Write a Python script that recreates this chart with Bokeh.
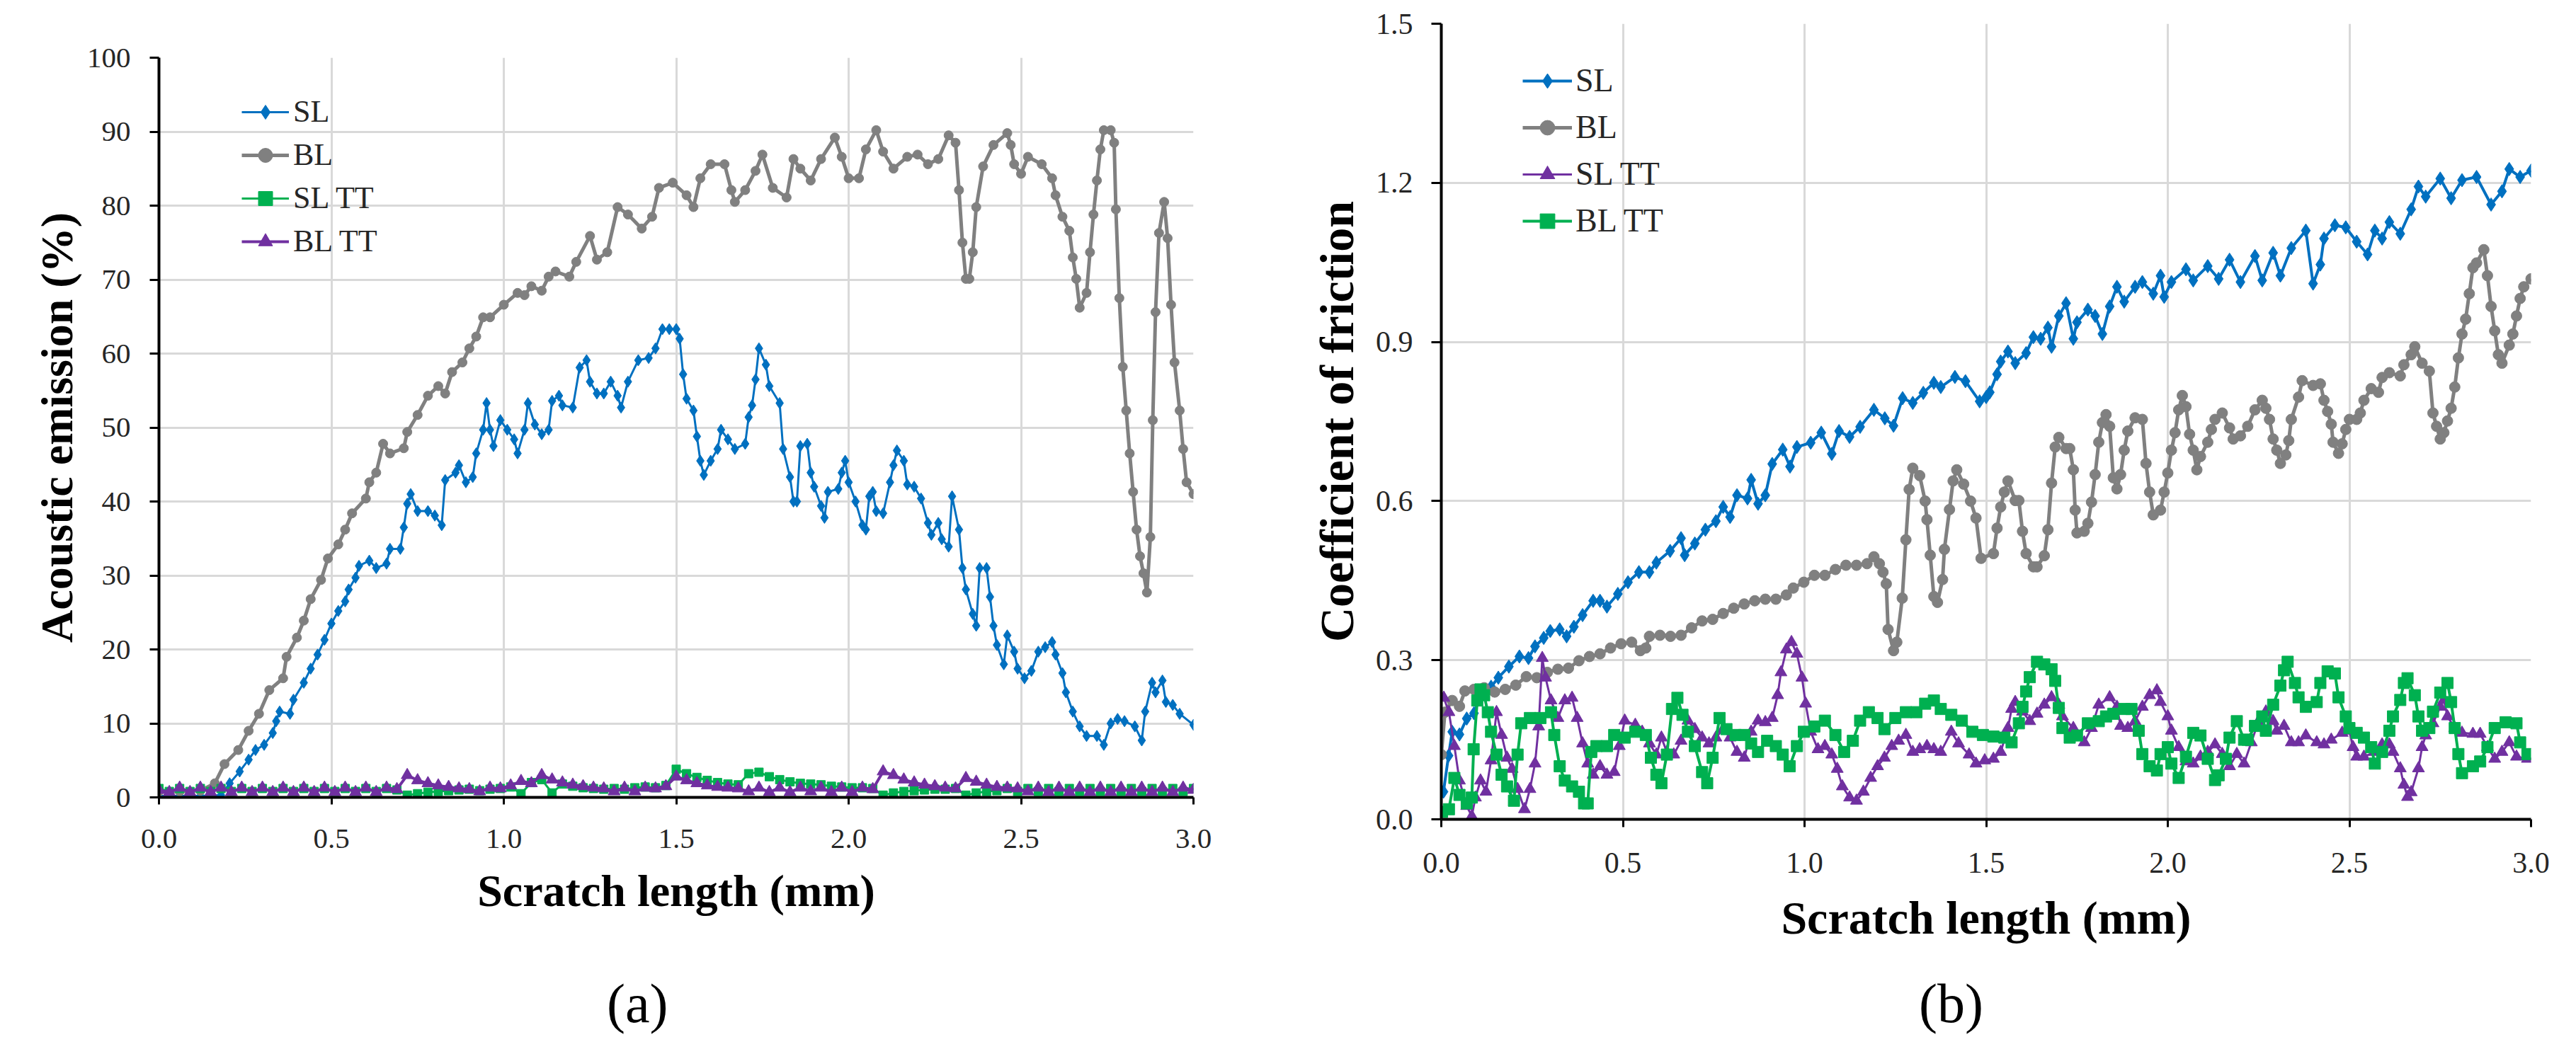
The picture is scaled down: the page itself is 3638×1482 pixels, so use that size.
from bokeh.plotting import figure
from bokeh.layouts import row, column
from bokeh.models import Label, Legend, LegendItem, FixedTicker, PrintfTickFormatter, Range1d
from bokeh.embed import file_html
from bokeh.resources import INLINE

FONT = "Liberation Serif"
BLUE, GRAY, GREEN, PURPLE = "#0070C0", "#808080", "#00B050", "#7030A0"

# ---------------- (a) acoustic emission (%) vs scratch length (mm)
ae_sl_x = [0.00, 0.06, 0.12, 0.18, 0.205, 0.234, 0.26, 0.28, 0.305, 0.33, 0.34, 0.35, 0.38, 0.39, 0.42, 0.44,
           0.46, 0.48, 0.50, 0.52, 0.54, 0.55, 0.57, 0.58, 0.61, 0.63, 0.66, 0.67, 0.70, 0.71, 0.72, 0.73,
           0.75, 0.78, 0.80, 0.82, 0.83, 0.86, 0.87, 0.89, 0.91, 0.92, 0.94, 0.95, 0.96, 0.97, 0.99, 1.01,
           1.03, 1.04, 1.06, 1.07, 1.09, 1.11, 1.13, 1.14, 1.16, 1.17, 1.20, 1.22, 1.24, 1.25, 1.27, 1.29,
           1.31, 1.33, 1.34, 1.36, 1.39, 1.42, 1.44, 1.46, 1.48, 1.50, 1.51, 1.52, 1.53, 1.55, 1.56, 1.57,
           1.58, 1.60, 1.62, 1.63, 1.65, 1.67, 1.70, 1.71, 1.72, 1.73, 1.74, 1.76, 1.77, 1.80, 1.81, 1.83,
           1.84, 1.85, 1.86, 1.88, 1.89, 1.90, 1.92, 1.93, 1.94, 1.97, 1.98, 1.99, 2.00, 2.02, 2.04, 2.05,
           2.06, 2.07, 2.08, 2.10, 2.12, 2.13, 2.14, 2.16, 2.17, 2.19, 2.21, 2.23, 2.24, 2.26, 2.27, 2.29,
           2.30, 2.32, 2.33, 2.34, 2.36, 2.37, 2.38, 2.40, 2.41, 2.42, 2.43, 2.45, 2.46, 2.48, 2.49, 2.51,
           2.53, 2.55, 2.57, 2.59, 2.60, 2.62, 2.63, 2.65, 2.67, 2.69, 2.72, 2.74, 2.76, 2.78, 2.80, 2.83,
           2.85, 2.86, 2.88, 2.89, 2.91, 2.92, 2.94, 2.96, 3.00]
ae_sl_y = [0.2, 0.2, 0.2, 0.3, 1.9, 3.5, 5.1, 6.4, 7.1, 8.7, 10.3, 11.6, 11.3, 13.2, 15.5, 17.4,
           19.3, 21.3, 23.5, 25.2, 26.5, 28.1, 29.7, 31.3, 32.0, 31.0, 31.6, 33.6, 33.6, 36.5, 39.7, 41.0,
           38.7, 38.7, 38.1, 36.8, 42.9, 43.9, 44.9, 42.6, 43.3, 46.5, 49.7, 53.3, 49.7, 47.5, 51.0, 49.7,
           48.4, 46.5, 49.7, 53.3, 50.4, 49.1, 49.7, 53.6, 54.3, 53.0, 52.7, 58.1, 59.1, 56.2, 54.6, 54.6,
           56.2, 54.3, 52.7, 56.2, 59.1, 59.4, 60.7, 63.3, 63.3, 63.3, 62.0, 57.2, 53.9, 52.3, 48.8, 45.5,
           43.6, 45.5, 47.1, 49.7, 48.4, 47.1, 47.8, 51.4, 53.0, 56.5, 60.7, 58.5, 55.6, 53.3, 47.1, 43.3,
           40.0, 40.0, 47.5, 47.8, 43.9, 42.0, 39.4, 37.8, 41.3, 41.7, 43.9, 45.5, 42.6, 40.0, 36.8, 36.2,
           40.7, 41.3, 38.7, 38.4, 42.6, 44.9, 46.9, 45.5, 42.3, 42.0, 40.4, 37.1, 35.5, 37.1, 34.9, 33.9,
           40.7, 36.2, 31.0, 28.1, 24.8, 23.2, 31.0, 31.0, 27.1, 23.2, 20.6, 18.0, 21.9, 19.7, 17.4, 16.1,
           17.1, 19.7, 20.3, 21.0, 19.3, 16.8, 14.2, 11.6, 9.6, 8.3, 8.3, 7.1, 10.0, 10.6, 10.3, 9.6,
           7.7, 11.6, 15.5, 14.2, 15.8, 12.9, 12.5, 11.3, 9.8]

ae_bl_x = [0.00, 0.06, 0.12, 0.162, 0.19, 0.23, 0.26, 0.29, 0.32, 0.36, 0.37, 0.40, 0.42, 0.44, 0.47, 0.49,
           0.52, 0.54, 0.56, 0.60, 0.61, 0.63, 0.65, 0.67, 0.71, 0.72, 0.75, 0.78, 0.81, 0.83, 0.85, 0.88,
           0.90, 0.92, 0.94, 0.96, 1.00, 1.04, 1.06, 1.08, 1.11, 1.13, 1.15, 1.19, 1.21, 1.25, 1.27, 1.30,
           1.33, 1.36, 1.40, 1.43, 1.45, 1.49, 1.53, 1.55, 1.57, 1.60, 1.64, 1.66, 1.67, 1.70, 1.73, 1.75,
           1.78, 1.82, 1.84, 1.86, 1.89, 1.92, 1.96, 1.98, 2.00, 2.03, 2.05, 2.08, 2.10, 2.13, 2.17, 2.20,
           2.23, 2.26, 2.29, 2.31, 2.32, 2.33, 2.34, 2.35, 2.36, 2.37, 2.39, 2.42, 2.46, 2.47, 2.48, 2.50,
           2.52, 2.56, 2.59, 2.60, 2.62, 2.64, 2.65, 2.66, 2.67, 2.69, 2.70, 2.71, 2.72, 2.73, 2.74, 2.76,
           2.77, 2.775, 2.785, 2.795, 2.805, 2.815, 2.825, 2.835, 2.845, 2.855, 2.865, 2.875, 2.882, 2.89,
           2.90, 2.915, 2.925, 2.935, 2.945, 2.96, 2.97, 2.98, 3.00]
ae_bl_y = [0.8, 0.8, 0.9, 1.9, 4.5, 6.4, 9.0, 11.3, 14.5, 16.1, 19.0, 21.6, 23.9, 26.8, 29.4, 32.3,
           34.2, 36.2, 38.4, 40.4, 42.6, 43.9, 47.8, 46.5, 47.2, 49.4, 51.7, 54.3, 55.6, 54.6, 57.5, 58.8,
           60.7, 62.3, 64.9, 64.9, 66.6, 68.2, 67.9, 69.1, 68.5, 70.4, 71.1, 70.4, 72.4, 75.9, 72.7, 73.7,
           79.8, 78.8, 76.9, 78.5, 82.4, 83.1, 81.4, 79.8, 83.7, 85.6, 85.6, 82.1, 80.5, 82.1, 84.7, 86.9,
           82.4, 81.1, 86.3, 85.0, 83.4, 86.3, 89.2, 86.6, 83.7, 83.7, 87.6, 90.2, 87.3, 85.0, 86.6, 86.9,
           85.6, 86.3, 89.5, 88.5, 82.1, 75.0, 70.1, 70.1, 73.7, 79.8, 85.3, 88.2, 89.8, 88.2, 85.6, 84.3,
           86.6, 85.6, 83.7, 81.4, 78.5, 76.6, 73.0, 70.1, 66.2, 68.2, 73.7, 78.8, 83.4, 87.6, 90.2, 90.2,
           88.5, 79.5, 67.5, 58.2, 52.3, 46.5, 41.3, 36.2, 32.6, 30.3, 27.7, 35.2, 51.0, 65.6,
           76.3, 80.5, 75.6, 66.6, 58.8, 52.3, 47.1, 42.6, 41.0]

# both TT series of (a) were read every 0.03 mm
ae_tt_x = [round(i * 0.03, 2) for i in range(101)]
ae_sltt_y = [1.2, 0.8, 1.2, 0.8, 1.2, 0.8, 1.2, 0.8, 1.2, 0.8, 1.2, 0.8, 1.2, 0.8, 1.2, 0.8,
             1.2, 0.8, 1.2, 0.8, 1.2, 0.8, 1.2, 1.0, 0.3, 0.5, 0.7, 0.8, 0.9, 1.0, 1.1, 0.9,
             1.1, 1.2, 1.4, 0.5, 2.0, 2.4, 0.6, 1.8, 1.5, 1.3, 1.2, 1.1, 1.2, 1.1, 1.3, 1.4,
             1.3, 1.6, 3.8, 3.2, 2.7, 2.3, 2.0, 1.8, 1.7, 3.2, 3.4, 2.8, 2.4, 2.1, 1.9, 1.8,
             1.7, 1.5, 1.4, 1.3, 1.3, 1.2, 0.3, 0.6, 0.8, 0.9, 1.0, 1.1, 1.1, 1.2, 0.3, 0.6,
             0.8, 0.9, 1.2, 0.8, 1.2, 0.8, 1.2, 0.8, 1.2, 0.8, 1.2, 0.8, 1.2, 0.8, 1.2, 0.8,
             1.2, 0.8, 1.2, 0.8, 1.2]
ae_bltt_y = [1.0, 0.7, 1.3, 0.7, 1.3, 0.7, 1.3, 0.7, 1.3, 0.7, 1.3, 0.7, 1.3, 0.7, 1.3, 0.7,
             1.3, 0.7, 1.3, 0.7, 1.3, 0.7, 1.3, 1.1, 3.0, 2.3, 1.9, 1.6, 1.4, 1.2, 1.1, 0.8,
             1.3, 1.2, 1.6, 2.2, 1.9, 3.0, 2.4, 2.0, 1.7, 1.5, 1.3, 1.2, 0.8, 1.3, 0.8, 1.3,
             1.2, 1.5, 2.8, 2.3, 1.9, 1.6, 1.4, 1.3, 1.2, 0.8, 1.3, 0.7, 1.3, 0.7, 1.3, 0.8,
             1.3, 0.7, 1.3, 0.7, 1.3, 1.1, 3.5, 3.0, 2.4, 2.0, 1.7, 1.5, 1.3, 1.2, 2.6, 2.1,
             1.7, 1.4, 1.3, 1.2, 0.8, 1.3, 0.7, 1.3, 0.7, 1.3, 0.7, 1.3, 0.7, 1.3, 0.7, 1.3,
             0.7, 1.3, 0.7, 1.3, 1.0]

# ---------------- (b) coefficient of friction vs scratch length (mm)
cof_sl_x = [0.006, 0.02, 0.03, 0.05, 0.07, 0.09, 0.108, 0.137, 0.157, 0.186, 0.215, 0.24, 0.258, 0.282, 0.30,
            0.326, 0.345, 0.365, 0.389, 0.418, 0.437, 0.456, 0.486, 0.514, 0.544, 0.573, 0.592, 0.63, 0.66,
            0.67, 0.698, 0.727, 0.756, 0.776, 0.795, 0.814, 0.843, 0.853, 0.872, 0.892, 0.911, 0.94, 0.96,
            0.979, 1.017, 1.046, 1.075, 1.095, 1.124, 1.153, 1.191, 1.221, 1.245, 1.27, 1.298, 1.327, 1.356,
            1.375, 1.414, 1.443, 1.482, 1.50, 1.51, 1.53, 1.54, 1.56, 1.58, 1.61, 1.63, 1.65, 1.67, 1.68,
            1.70, 1.72, 1.74, 1.75, 1.78, 1.80, 1.82, 1.84, 1.86, 1.88, 1.91, 1.93, 1.96, 1.98, 1.99, 2.01,
            2.05, 2.07, 2.11, 2.14, 2.17, 2.20, 2.24, 2.26, 2.29, 2.31, 2.34, 2.38, 2.40, 2.42, 2.43, 2.46,
            2.49, 2.52, 2.55, 2.57, 2.59, 2.61, 2.64, 2.67, 2.69, 2.71, 2.75, 2.78, 2.81, 2.85, 2.89, 2.92,
            2.94, 2.97, 3.00]
cof_sl_y = [0.052, 0.12, 0.165, 0.16, 0.19, 0.20, 0.234, 0.25, 0.267, 0.288, 0.307, 0.304, 0.326, 0.342, 0.355,
            0.358, 0.345, 0.363, 0.385, 0.412, 0.412, 0.401, 0.425, 0.447, 0.466, 0.466, 0.484, 0.506, 0.53,
            0.498, 0.52, 0.546, 0.562, 0.589, 0.570, 0.611, 0.605, 0.640, 0.595, 0.611, 0.670, 0.697, 0.665,
            0.702, 0.710, 0.729, 0.689, 0.732, 0.721, 0.740, 0.772, 0.756, 0.742, 0.794, 0.785, 0.804, 0.823,
            0.815, 0.834, 0.826, 0.788, 0.796, 0.805, 0.839, 0.863, 0.882, 0.860, 0.879, 0.909, 0.906, 0.927, 0.891,
            0.949, 0.973, 0.906, 0.937, 0.961, 0.949, 0.915, 0.967, 1.004, 0.976, 1.004, 1.013, 0.991, 1.025, 0.985, 1.013,
            1.037, 1.016, 1.043, 1.019, 1.055, 1.013, 1.062, 1.016, 1.068, 1.025, 1.077, 1.110, 1.010, 1.046, 1.095, 1.120,
            1.116, 1.089, 1.065, 1.110, 1.095, 1.126, 1.104, 1.150, 1.193, 1.174, 1.208, 1.171, 1.205, 1.211, 1.159, 1.184,
            1.226, 1.211, 1.223]

cof_bl_x = [0.00, 0.01, 0.03, 0.05, 0.065, 0.09, 0.118, 0.147, 0.176, 0.205, 0.234, 0.263, 0.292, 0.321, 0.350,
            0.379, 0.408, 0.437, 0.466, 0.495, 0.524, 0.548, 0.563, 0.573, 0.602, 0.631, 0.66, 0.689, 0.718,
            0.747, 0.776, 0.805, 0.834, 0.863, 0.892, 0.921, 0.95, 0.969, 0.998, 1.027, 1.056, 1.085, 1.114,
            1.143, 1.172, 1.191, 1.206, 1.216, 1.225, 1.23, 1.245, 1.254, 1.269, 1.279, 1.288, 1.298, 1.317,
            1.332, 1.337, 1.346, 1.356, 1.366, 1.380, 1.385, 1.399, 1.409, 1.419, 1.438, 1.457, 1.472, 1.486,
            1.52, 1.53, 1.54, 1.55, 1.56, 1.58, 1.59, 1.60, 1.61, 1.63, 1.64, 1.66, 1.67, 1.68, 1.69, 1.70,
            1.72, 1.73, 1.74, 1.745, 1.75, 1.77, 1.78, 1.79, 1.80, 1.81, 1.82, 1.83, 1.84, 1.85, 1.86, 1.87,
            1.88, 1.89, 1.91, 1.93, 1.94, 1.95, 1.96, 1.98, 1.99, 2.00, 2.01, 2.02, 2.03, 2.04, 2.05, 2.06,
            2.07, 2.08, 2.09, 2.11, 2.12, 2.13, 2.15, 2.17, 2.18, 2.20, 2.22, 2.24, 2.26, 2.27, 2.28, 2.29,
            2.30, 2.31, 2.325, 2.333, 2.34, 2.36, 2.37, 2.40, 2.42, 2.43, 2.44, 2.45, 2.455, 2.47, 2.48, 2.49,
            2.50, 2.52, 2.53, 2.54, 2.56, 2.58, 2.59, 2.61, 2.64, 2.65, 2.67, 2.68, 2.70, 2.72, 2.73, 2.74,
            2.75, 2.76, 2.77, 2.78, 2.79, 2.80, 2.81, 2.82, 2.83, 2.84, 2.85, 2.87, 2.88, 2.89, 2.90, 2.91,
            2.92, 2.94, 2.95, 2.96, 2.97, 2.98, 3.00]
cof_bl_y = [0.122, 0.202, 0.224, 0.213, 0.242, 0.245, 0.248, 0.240, 0.245, 0.253, 0.269, 0.267, 0.277, 0.283, 0.285,
            0.299, 0.307, 0.312, 0.323, 0.331, 0.334, 0.318, 0.323, 0.345, 0.347, 0.345, 0.347, 0.361, 0.374,
            0.377, 0.388, 0.398, 0.406, 0.412, 0.415, 0.415, 0.423, 0.436, 0.447, 0.460, 0.460, 0.471, 0.479,
            0.479, 0.482, 0.495, 0.482, 0.466, 0.444, 0.358, 0.318, 0.334, 0.417, 0.527, 0.622, 0.662, 0.648,
            0.600, 0.565, 0.498, 0.420, 0.409, 0.452, 0.509, 0.584, 0.638, 0.659, 0.632, 0.600, 0.568, 0.492,
            0.501, 0.549, 0.589, 0.617, 0.638, 0.601, 0.601, 0.543, 0.501, 0.476, 0.476, 0.497, 0.546, 0.634, 0.702, 0.720,
            0.699, 0.699, 0.659, 0.583, 0.540, 0.543, 0.558, 0.598, 0.650, 0.711, 0.748, 0.763, 0.741, 0.644, 0.623, 0.650,
            0.696, 0.732, 0.757, 0.754, 0.671, 0.617, 0.574, 0.583, 0.617, 0.653, 0.696, 0.729, 0.772, 0.799, 0.778, 0.726,
            0.696, 0.659, 0.684, 0.711, 0.735, 0.754, 0.766, 0.738, 0.717, 0.723, 0.741, 0.772, 0.790, 0.775, 0.754, 0.717,
            0.696, 0.671, 0.687, 0.714, 0.754, 0.796, 0.827, 0.818, 0.821, 0.790, 0.769, 0.745, 0.711, 0.690, 0.708, 0.735,
            0.754, 0.754, 0.766, 0.790, 0.812, 0.805, 0.833, 0.842, 0.836, 0.857, 0.876, 0.891, 0.860, 0.845, 0.766, 0.741,
            0.717, 0.729, 0.751, 0.775, 0.815, 0.870, 0.915, 0.943, 0.991, 1.040, 1.049, 1.074, 1.025, 0.967, 0.921, 0.876,
            0.860, 0.894, 0.915, 0.949, 0.982, 1.004, 1.019]

cof_sltt_x = [0.007, 0.021, 0.036, 0.05, 0.07, 0.084, 0.094, 0.108, 0.123, 0.137, 0.152, 0.166, 0.181, 0.195,
              0.21, 0.229, 0.244, 0.258, 0.268, 0.278, 0.287, 0.302, 0.321, 0.34, 0.36, 0.374, 0.389, 0.403,
              0.418, 0.437, 0.456, 0.476, 0.49, 0.505, 0.534, 0.553, 0.573, 0.592, 0.606, 0.621, 0.64, 0.66,
              0.679, 0.698, 0.718, 0.737, 0.756, 0.776, 0.795, 0.814, 0.834, 0.853, 0.872, 0.892, 0.911, 0.926,
              0.935, 0.95, 0.964, 0.979, 0.993, 1.003, 1.017, 1.037, 1.056, 1.075, 1.09, 1.104, 1.124, 1.143,
              1.162, 1.182, 1.201, 1.22, 1.24, 1.259, 1.279, 1.298, 1.317, 1.337, 1.356, 1.375, 1.404, 1.424,
              1.453, 1.472, 1.496, 1.52, 1.54, 1.56, 1.57, 1.58, 1.60, 1.62, 1.64, 1.66, 1.68, 1.70, 1.71,
              1.74, 1.77, 1.79, 1.81, 1.84, 1.86, 1.87, 1.89, 1.91, 1.93, 1.95, 1.97, 1.98, 2.00, 2.01, 2.03,
              2.05, 2.07, 2.09, 2.11, 2.13, 2.15, 2.17, 2.19, 2.21, 2.23, 2.25, 2.27, 2.29, 2.30, 2.32, 2.34,
              2.36, 2.38, 2.41, 2.43, 2.45, 2.48, 2.50, 2.51, 2.52, 2.54, 2.57, 2.59, 2.61, 2.62, 2.64, 2.65,
              2.66, 2.67, 2.69, 2.70, 2.71, 2.73, 2.75, 2.76, 2.77, 2.79, 2.81, 2.84, 2.86, 2.88, 2.90, 2.92,
              2.94, 2.96, 2.99]
cof_sltt_y = [0.229, 0.202, 0.138, 0.073, 0.025, 0.006, 0.041, 0.073, 0.052, 0.111, 0.202, 0.159, 0.116, 0.095,
              0.057, 0.019, 0.057, 0.105, 0.175, 0.304, 0.267, 0.224, 0.191, 0.224, 0.229, 0.191, 0.143, 0.105,
              0.084, 0.100, 0.084, 0.089, 0.138, 0.186, 0.178, 0.165, 0.143, 0.122, 0.154, 0.127, 0.122, 0.148,
              0.186, 0.170, 0.154, 0.143, 0.154, 0.170, 0.154, 0.127, 0.116, 0.165, 0.186, 0.183, 0.191, 0.234,
              0.277, 0.320, 0.334, 0.312, 0.267, 0.218, 0.165, 0.132, 0.138, 0.122, 0.095, 0.062, 0.041, 0.035,
              0.052, 0.078, 0.100, 0.116, 0.138, 0.148, 0.159, 0.127, 0.132, 0.138, 0.132, 0.127, 0.165, 0.143,
              0.122, 0.105, 0.111, 0.114, 0.127, 0.172, 0.208, 0.221, 0.203, 0.185, 0.199, 0.216, 0.230, 0.216, 0.194,
              0.172, 0.145, 0.172, 0.216, 0.230, 0.212, 0.176, 0.172, 0.185, 0.212, 0.234, 0.243, 0.221, 0.194, 0.167, 0.136,
              0.109, 0.105, 0.118, 0.127, 0.141, 0.123, 0.100, 0.123, 0.105, 0.145, 0.185, 0.203, 0.185, 0.167, 0.176, 0.145,
              0.145, 0.158, 0.145, 0.141, 0.150, 0.163, 0.167, 0.136, 0.118, 0.118, 0.127, 0.141, 0.141, 0.127, 0.096, 0.065,
              0.042, 0.051, 0.096, 0.136, 0.158, 0.181, 0.212, 0.225, 0.194, 0.172, 0.163, 0.161, 0.161, 0.136, 0.114, 0.127,
              0.145, 0.118, 0.114]

cof_bltt_x = [0.002, 0.021, 0.036, 0.05, 0.07, 0.084, 0.089, 0.099, 0.108, 0.118, 0.128, 0.137, 0.152, 0.166,
              0.181, 0.20, 0.21, 0.22, 0.244, 0.273, 0.302, 0.311, 0.326, 0.34, 0.36, 0.379, 0.393, 0.403,
              0.413, 0.427, 0.456, 0.476, 0.505, 0.534, 0.563, 0.577, 0.592, 0.606, 0.621, 0.635, 0.65, 0.664,
              0.679, 0.698, 0.718, 0.732, 0.747, 0.766, 0.785, 0.81, 0.834, 0.853, 0.872, 0.897, 0.921, 0.94,
              0.959, 0.979, 0.998, 1.027, 1.056, 1.085, 1.109, 1.133, 1.153, 1.177, 1.201, 1.22, 1.25, 1.279,
              1.308, 1.332, 1.356, 1.375, 1.404, 1.433, 1.462, 1.491, 1.52, 1.55, 1.57, 1.59, 1.60, 1.61,
              1.62, 1.64, 1.66, 1.68, 1.69, 1.70, 1.71, 1.73, 1.75, 1.78, 1.81, 1.83, 1.85, 1.88, 1.90, 1.92,
              1.93, 1.95, 1.97, 1.98, 2.00, 2.01, 2.03, 2.05, 2.07, 2.09, 2.11, 2.13, 2.14, 2.16, 2.17, 2.19,
              2.21, 2.22, 2.24, 2.26, 2.27, 2.29, 2.31, 2.32, 2.33, 2.35, 2.36, 2.38, 2.41, 2.42, 2.44, 2.46,
              2.47, 2.49, 2.50, 2.52, 2.54, 2.56, 2.57, 2.59, 2.61, 2.62, 2.64, 2.65, 2.66, 2.68, 2.69, 2.70,
              2.72, 2.73, 2.75, 2.77, 2.78, 2.79, 2.80, 2.81, 2.84, 2.86, 2.88, 2.90, 2.93, 2.96, 2.97, 2.99]
cof_bltt_y = [0.014, 0.019, 0.078, 0.046, 0.030, 0.041, 0.132, 0.224, 0.245, 0.234, 0.202, 0.165, 0.122, 0.084,
              0.062, 0.035, 0.122, 0.181, 0.191, 0.191, 0.202, 0.159, 0.100, 0.073, 0.062, 0.052, 0.030, 0.030,
              0.127, 0.138, 0.138, 0.159, 0.154, 0.165, 0.159, 0.116, 0.084, 0.068, 0.122, 0.208, 0.229, 0.197,
              0.165, 0.138, 0.089, 0.068, 0.116, 0.191, 0.170, 0.159, 0.159, 0.143, 0.127, 0.148, 0.138, 0.122,
              0.100, 0.138, 0.165, 0.175, 0.186, 0.159, 0.127, 0.148, 0.186, 0.202, 0.191, 0.170, 0.191, 0.202,
              0.202, 0.218, 0.224, 0.208, 0.197, 0.186, 0.165, 0.159, 0.156, 0.154, 0.145, 0.181, 0.212, 0.241,
              0.268, 0.297, 0.292, 0.283, 0.261, 0.210, 0.172, 0.154, 0.158, 0.181, 0.185, 0.194, 0.199, 0.208, 0.208, 0.167,
              0.123, 0.100, 0.092, 0.123, 0.136, 0.105, 0.078, 0.118, 0.163, 0.158, 0.114, 0.074, 0.083, 0.114, 0.154, 0.185,
              0.150, 0.150, 0.176, 0.194, 0.167, 0.216, 0.252, 0.281, 0.297, 0.257, 0.230, 0.212, 0.221, 0.257, 0.279, 0.275,
              0.230, 0.194, 0.172, 0.163, 0.154, 0.136, 0.105, 0.127, 0.167, 0.194, 0.225, 0.257, 0.266, 0.234, 0.194, 0.167,
              0.172, 0.203, 0.239, 0.257, 0.221, 0.172, 0.123, 0.087, 0.100, 0.109, 0.136, 0.172, 0.183, 0.181, 0.145, 0.123]

x_ticks = [0.0, 0.5, 1.0, 1.5, 2.0, 2.5, 3.0]
ae_ticks = [0, 10, 20, 30, 40, 50, 60, 70, 80, 90, 100]
cof_ticks = [0.0, 0.3, 0.6, 0.9, 1.2, 1.5]

PLOT_H = 1366
CAP_H = 100


def make_fig(width, y_range, borders):
    left, right, top, bottom = borders
    p = figure(width=width, height=PLOT_H, x_range=Range1d(0, 3), y_range=y_range,
               output_backend="svg", toolbar_location=None,
               min_border_left=left, min_border_right=right, min_border_top=top, min_border_bottom=bottom)
    p.outline_line_color = None
    p.grid.grid_line_color = "#d9d9d9"
    p.grid.grid_line_width = 3
    for ax in (p.xaxis[0], p.yaxis[0]):
        ax.axis_line_color = "black"
        ax.axis_line_width = 4
        ax.major_tick_line_color = "black"
        ax.major_tick_line_width = 3
        ax.major_tick_in = 0
        ax.minor_tick_line_color = None
        ax.major_label_text_font = FONT
        ax.major_label_text_color = "#262626"
        ax.axis_label_text_font = FONT
        ax.axis_label_text_font_style = "bold"
        ax.axis_label_text_color = "black"
    p.xaxis.ticker = FixedTicker(ticks=x_ticks)
    p.xaxis.formatter = PrintfTickFormatter(format="%.1f")
    p.xaxis.axis_label = "Scratch length (mm)"
    return p


def series(p, xs, ys, color, marker, size, lw):
    ln = p.line(xs, ys, line_color=color, line_width=lw)
    sc = p.scatter(xs, ys, marker=marker, size=size, fill_color=color, line_color=color)
    return [ln, sc]


def caption_strip(width, text, cx):
    # a thin blank strip under each panel that only carries the (a)/(b) caption
    c = figure(width=width, height=CAP_H, x_range=Range1d(0, width), y_range=Range1d(CAP_H, 0),
               x_axis_type=None, y_axis_type=None, output_backend="svg", toolbar_location=None,
               min_border=0)
    c.outline_line_color = None
    c.grid.visible = False
    c.add_layout(Label(x=cx, y=51, text=text, text_align="center", text_baseline="middle",
                       text_font=FONT, text_font_size="78px", text_color="black"))
    return c


# ---- panel (a)
pa = make_fig(1790, Range1d(0, 100), (224, 105, 81, PLOT_H - 1126))
pa.yaxis.ticker = FixedTicker(ticks=ae_ticks)
pa.yaxis.axis_label = "Acoustic emission (%)"
pa.xaxis.major_label_text_font_size = "41px"
pa.yaxis.major_label_text_font_size = "41px"
pa.xaxis.axis_label_text_font_size = "64px"
pa.yaxis.axis_label_text_font_size = "64px"
pa.yaxis.major_tick_out = 13
pa.yaxis.major_label_standoff = 27
pa.yaxis.axis_label_standoff = 4
pa.xaxis.major_tick_out = 10
pa.xaxis.major_label_standoff = 35
pa.xaxis.axis_label_standoff = 22

ra_sl = series(pa, ae_sl_x, ae_sl_y, BLUE, "diamond", 16, 3)
ra_bl = series(pa, ae_bl_x, ae_bl_y, GRAY, "circle", 13, 5)
ra_sltt = series(pa, ae_tt_x, ae_sltt_y, GREEN, "square", 12, 3)
ra_bltt = series(pa, ae_tt_x, ae_bltt_y, PURPLE, "triangle", 17, 4)

leg_a = Legend(items=[LegendItem(label="SL", renderers=ra_sl),
                      LegendItem(label="BL", renderers=ra_bl),
                      LegendItem(label="SL TT", renderers=ra_sltt),
                      LegendItem(label="BL TT", renderers=ra_bltt)],
               location=(117, 760))
pa.add_layout(leg_a)

# ---- panel (b)
pb = make_fig(1830, Range1d(0, 1.5), (245, 46, 33, PLOT_H - 1157))
pb.yaxis.ticker = FixedTicker(ticks=cof_ticks)
pb.yaxis.formatter = PrintfTickFormatter(format="%.1f")
pb.yaxis.axis_label = "Coefficient of friction"
pb.xaxis.major_label_text_font_size = "42px"
pb.yaxis.major_label_text_font_size = "42px"
pb.xaxis.axis_label_text_font_size = "66px"
pb.yaxis.axis_label_text_font_size = "68px"
pb.yaxis.major_tick_out = 14
pb.yaxis.major_label_standoff = 26
pb.yaxis.axis_label_standoff = 14
pb.xaxis.major_tick_out = 11
pb.xaxis.major_label_standoff = 36
pb.xaxis.axis_label_standoff = 24

rb_sl = series(pb, cof_sl_x, cof_sl_y, BLUE, "diamond", 19, 4)
rb_bl = series(pb, cof_bl_x, cof_bl_y, GRAY, "circle", 15, 5)
rb_sltt = series(pb, cof_sltt_x, cof_sltt_y, PURPLE, "triangle", 17, 3)
rb_bltt = series(pb, cof_bltt_x, cof_bltt_y, GREEN, "square", 16, 4)

leg_b = Legend(items=[LegendItem(label="SL", renderers=rb_sl),
                      LegendItem(label="BL", renderers=rb_bl),
                      LegendItem(label="SL TT", renderers=rb_sltt),
                      LegendItem(label="BL TT", renderers=rb_bltt)],
               location=(115, 819))
pb.add_layout(leg_b)

for leg, gw, gh, sp, st, fs in ((leg_a, 67, 50, 10, 6, "44px"), (leg_b, 70, 52, 13, 5, "46px")):
    leg.margin = 0
    leg.padding = 0
    leg.spacing = sp
    leg.glyph_width = gw
    leg.glyph_height = gh
    leg.label_height = gh
    leg.label_standoff = st
    leg.label_text_font = FONT
    leg.label_text_font_size = fs
    leg.label_text_color = "#262626"
    leg.border_line_color = None
    leg.background_fill_alpha = 0

cap_a = caption_strip(1790, "(a)", 828)
cap_b = caption_strip(1830, "(b)", 856)

# each panel in its own column so that the two plot frames keep their own borders
layout = row(column(pa, cap_a), column(pb, cap_b))
open("out.html", "w").write(file_html(layout, INLINE))
